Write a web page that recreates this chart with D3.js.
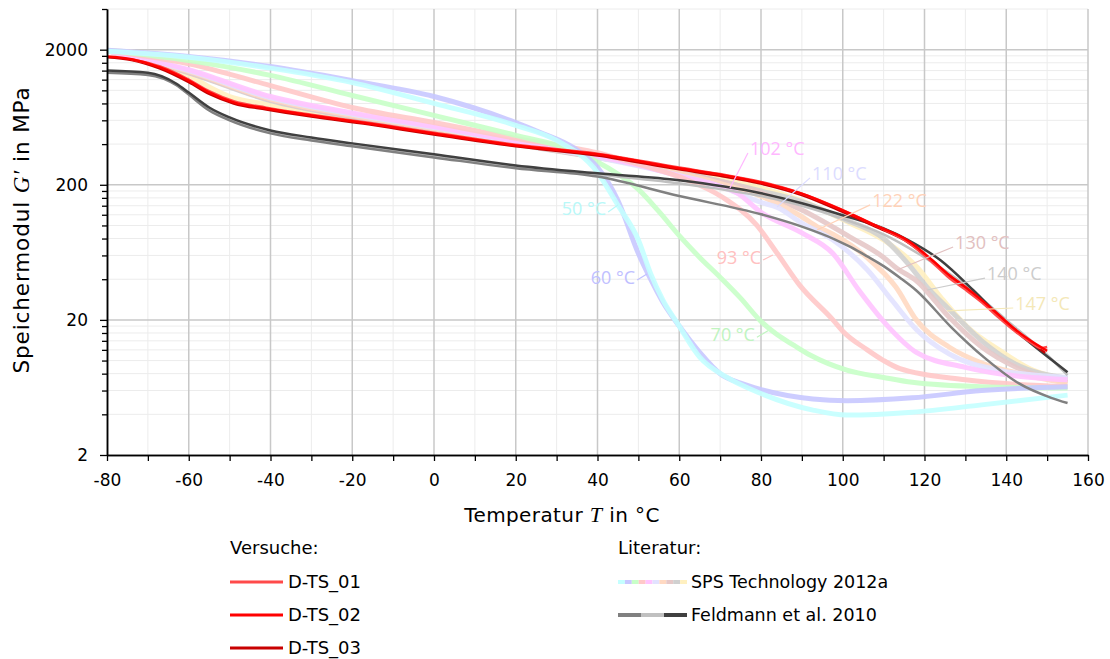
<!DOCTYPE html>
<html>
<head>
<meta charset="utf-8">
<script src="https://cdn.jsdelivr.net/npm/d3@7"></script>
<style>
  body { margin: 0; background: #fff; }
  svg text { font-family: "DejaVu Sans", sans-serif; }
</style>
</head>
<body>
<svg id="chart" width="1110" height="659"></svg>
<script>

// ---- data: [temperature in °C, storage modulus G' in MPa] ----
var dts01 = [[-74,1700],[-67,1500],[-60,1200],[-55,985],[-49,830],[-41,745],[-30,660],[-16,575],[-8,528],[0,486],[20,396],[40,340],[60,268],[70,240],[80,210],[90,172],[100,130],[108,100],[116,75],[122,53],[126,41],[130,33.5],[134,27],[138,21],[142,16.6],[146,13.6],[148.5,12.4],[150,12.6]];
var dts02 = [[-80,1780],[-74,1700],[-67,1480],[-60,1180],[-55,965],[-49,815],[-41,735],[-30,652],[-16,569],[-8,522],[0,480],[20,391],[40,336],[60,265],[70,238],[80,208],[90,172],[100,129],[108,100],[116,77],[122,55],[126,43],[130,35],[134,28],[138,22],[142,17.2],[146,14],[150,11.8]];
var dts03 = [[-80,1760],[-74,1680],[-67,1450],[-60,1150],[-55,940],[-49,800],[-41,722],[-30,640],[-16,560],[-8,514],[0,472],[20,385],[40,330],[60,260],[70,233],[80,204],[90,168],[100,126],[108,98],[116,75],[122,54],[126,42.5],[130,34.5],[134,27.5],[138,21.6],[142,16.9],[146,13.7],[149.5,11.4]];

var feldMid = [[-80,1350],[-70,1300],[-63,1090],[-60,930],[-55,710],[-50,600],[-40,480],[-30,425],[-20,385],[0,319],[20,265],[40,230],[60,165],[80,121],[90,98],[98,79],[102,69],[106,59],[110,50],[114,41],[118,33],[126.5,17.7],[134.5,10.6],[143,6.8],[151,5.3],[155,4.85]];
var feldLight = [[-80,1380],[-70,1330],[-63,1100],[-60,940],[-55,730],[-50,615],[-40,495],[-30,440],[-20,398],[0,330],[20,272],[40,238],[60,205],[80,165],[90,140],[100,112],[110,86],[120,58],[130,36],[140,20],[150,11],[155,7.8]];
var feldDark = [[-80,1400],[-70,1350],[-63,1120],[-60,964],[-55,747],[-50,630],[-40,505],[-30,448],[-20,405],[0,336],[20,278],[40,243],[60,216],[80,173],[90,146],[100,119],[110,95],[116,78],[124,55],[132,33],[140,19],[145,14.2],[155,8.2]];

var sps50 = [[-80,1950],[-60,1760],[-40,1460],[-20,1140],[0,800],[20,550],[30,426],[40,247],[45,141],[50,78],[53,44],[56,28],[59.5,19],[65,10.6],[71.7,7.5],[80,5.7],[92.7,4.3],[101,3.95],[117,4.15],[134,4.7],[155,5.55]];
var sps60 = [[-80,1980],[-60,1780],[-40,1500],[-20,1180],[0,900],[20,578],[26,488],[34,378],[40,269],[45,153],[50,62],[53,40],[56,27],[60,18],[65,11.5],[70,8],[75,6.8],[80,6.1],[92.7,5.2],[101,5.05],[117,5.3],[134,6],[155,6.4]];
var sps70 = [[-80,1980],[-60,1660],[-40,1290],[-20,916],[0,652],[20,464],[34,359],[40,295],[45,240],[50,185],[55,127],[60,84],[65,58],[70,41.4],[75,29],[80,19.5],[84,15.5],[88,13],[92,11],[101,8.5],[110,7.5],[117,6.9],[134,6.4],[155,6.26]];
var sps93 = [[-80,1960],[-60,1570],[-40,1085],[-20,747],[0,578],[20,441],[40,345],[51,278],[61,223],[70.7,161],[79,100],[84,62],[89.5,36],[97.6,20],[100,16.5],[106,12],[110,10],[114,8.7],[130,7.2],[155,6.4]];
var sps102 = [[-80,1960],[-60,1420],[-40,900],[-20,680],[0,540],[20,420],[40,325],[50,280],[60,232],[70,195],[74,175],[80,125],[90,88],[97.6,62],[104,33],[111,18],[118,11.5],[130,8.9],[155,7.2]];
var sps110 = [[-80,1960],[-60,1400],[-40,880],[-20,665],[0,530],[20,412],[40,318],[60,235],[70,195],[80,148],[84,136],[90,104],[97.6,78],[106,47],[112,28],[118,17],[126,11.2],[138,8.5],[155,7.5]];
var sps122 = [[-80,1970],[-60,1380],[-40,860],[-20,650],[0,520],[20,405],[40,322],[60,245],[70,205],[80,165],[89.6,118],[93.7,98],[97.6,86],[105.9,58],[113,35],[118,20],[126,12.6],[134,9.6],[142.5,8.1],[155,6.8]];
var sps130 = [[-80,1970],[-60,1360],[-40,850],[-20,640],[0,515],[20,400],[40,320],[60,245],[80,175],[90,130],[101.8,82],[110,58],[113.3,48],[118,39],[126,21],[134,12.6],[142.5,8.9],[155,6.9]];
var sps140 = [[-80,1970],[-60,1350],[-40,840],[-20,635],[0,510],[20,398],[40,318],[60,248],[80,180],[90,150],[100,112],[110,80],[116,52],[120.6,35],[126,24],[134,14],[142,9.5],[155,7.4]];
var sps147 = [[-80,1970],[-70,1850],[-67,1560],[-60,1300],[-55,1060],[-50,900],[-40,780],[-20,610],[0,500],[20,400],[40,328],[60,252],[80,190],[90,152],[101.8,104],[110,78],[118.2,49],[124,29.4],[130.5,17.7],[138.4,11.9],[146.5,8.5],[155,7.2]];

var spsLabels = ["50 °C","60 °C","70 °C","93 °C","102 °C","110 °C","122 °C","130 °C","140 °C","147 °C"];
// leader lines of the labels: start (next to text) and end (on the curve), in data units
var leaderFrom = [[42.6,126],[49.7,39.5],[79,14.9],[80.5,55.5],[76.8,344],[92,225],[106.7,142],[127,69.3],[134.8,40.8],[141.7,24.5]];
var leaderTo   = [[45,141.7],[52.1,43.7],[81.7,16.6],[82.9,60.4],[72.4,189],[83.9,137],[93.7,92.6],[113.3,46.8],[120.6,33.3],[125.5,23.3]];
var labelLeft  = [true,true,true,true,false,false,false,false,false,false];

var xTicks = [-80,-60,-40,-20,0,20,40,60,80,100,120,140,160];
var xMinor = [-70,-50,-30,-10,10,30,50,70,90,110,130,150];
var yTicks = [2,20,200,2000];

// ---- styles ----
var spsColors = ["#c4ffff","#c8c8ff","#c8ffc8","#ffc8c8","#ffc4ff","#e2e2ff","#ffd9c2","#e6c8c8","#d0d0d0","#fff0c0"];
var spsText   = ["#b8f8f8","#c0c0ff","#c0f4c0","#ffc0c0","#ffb8ff","#dcdcff","#ffd2b8","#e2c0c0","#cccccc","#f4e8b8"];
var redColors = ["#ff4a4a","#ff0000","#c80000"];
var grayColors = ["#808080","#c0c0c0","#404040"];

var svg = d3.select("#chart");
var margin = {left: 107, right: 1088, top: 9, bottom: 455};

var x = d3.scaleLinear().domain([-80, 160]).range([margin.left, margin.right]);
var y = d3.scaleLog().domain([2, 4000]).range([margin.bottom, margin.top]);

// minor log ticks 4,6,...,18 / 40..180 / ...
var yMinor = [];
[2, 20, 200, 2000].forEach(function(b) {
  for (var k = 2; k <= 9; k++) {
    if (b * k <= 4000) yMinor.push(b * k);
  }
});

// ---- grid ----
var grid = svg.append("g");
grid.selectAll(".vmin").data(xMinor).enter().append("line")
  .attr("x1", d => x(d)).attr("x2", d => x(d))
  .attr("y1", margin.top).attr("y2", margin.bottom)
  .attr("stroke", "#ececec").attr("stroke-width", 1);
grid.selectAll(".hmin").data(yMinor).enter().append("line")
  .attr("x1", margin.left).attr("x2", margin.right)
  .attr("y1", d => y(d)).attr("y2", d => y(d))
  .attr("stroke", "#ececec").attr("stroke-width", 1);
grid.selectAll(".vmaj").data(xTicks.slice(1)).enter().append("line")
  .attr("x1", d => x(d)).attr("x2", d => x(d))
  .attr("y1", margin.top).attr("y2", margin.bottom)
  .attr("stroke", "#c8c8c8").attr("stroke-width", 1.5);
grid.selectAll(".hmaj").data(yTicks.slice(1)).enter().append("line")
  .attr("x1", margin.left).attr("x2", margin.right)
  .attr("y1", d => y(d)).attr("y2", d => y(d))
  .attr("stroke", "#c8c8c8").attr("stroke-width", 1.5);

// ---- curves ----
var line = d3.line()
  .x(d => x(d[0]))
  .y(d => y(d[1]))
  .curve(d3.curveMonotoneX);

var spsSeries = [sps50, sps60, sps70, sps93, sps102, sps110, sps122, sps130, sps140, sps147];
var spsOrder = [9, 8, 7, 6, 5, 4, 3, 2, 1, 0];
spsOrder.forEach(function(i) {
  svg.append("path")
    .attr("d", line(spsSeries[i]))
    .attr("fill", "none")
    .attr("stroke", spsColors[i])
    .attr("stroke-width", 5)
    .attr("stroke-opacity", 0.9);
});

var feldSeries = [feldLight, feldMid, feldDark];
var feldCol = [grayColors[1], grayColors[0], grayColors[2]];
feldSeries.forEach(function(s, i) {
  svg.append("path")
    .attr("d", line(s))
    .attr("fill", "none")
    .attr("stroke", feldCol[i])
    .attr("stroke-width", 2.5);
});

[dts03, dts01, dts02].forEach(function(s, i) {
  var c = [redColors[2], redColors[0], redColors[1]][i];
  svg.append("path")
    .attr("d", line(s))
    .attr("fill", "none")
    .attr("stroke", c)
    .attr("stroke-width", 2.5);
});

// ---- SPS labels ----
spsLabels.forEach(function(t, i) {
  var p0 = leaderFrom[i], p1 = leaderTo[i];
  svg.append("line")
    .attr("x1", x(p0[0])).attr("y1", y(p0[1]))
    .attr("x2", x(p1[0])).attr("y2", y(p1[1]))
    .attr("stroke", spsText[i]).attr("stroke-width", 1.2);
  svg.append("text")
    .attr("x", labelLeft[i] ? x(p0[0]) - 2 : x(p0[0]) + 2)
    .attr("y", y(p0[1]))
    .attr("dy", labelLeft[i] ? "0.2em" : "0.1em")
    .attr("text-anchor", labelLeft[i] ? "end" : "start")
    .style("font-family", "'Open Sans', sans-serif")
    .style("font-size", "18px")
    .attr("fill", spsText[i])
    .text(t);
});

// ---- axes ----
function styleAxis(g) {
  g.select(".domain").attr("stroke", "#000").attr("stroke-width", 1.5);
  g.selectAll(".tick line").attr("stroke", "#000").attr("stroke-width", 1.3);
  g.selectAll(".tick text").style("font-size", "17px").attr("fill", "#000");
}

svg.append("g")
  .attr("transform", "translate(0," + margin.bottom + ")")
  .call(d3.axisBottom(x).tickValues(xMinor).tickSize(6).tickSizeOuter(0).tickFormat(""))
  .call(styleAxis);
svg.append("g")
  .attr("transform", "translate(0," + margin.bottom + ")")
  .call(d3.axisBottom(x).tickValues(xTicks).tickSize(6).tickSizeOuter(0).tickPadding(13)
    .tickFormat(d => String(d)))
  .call(styleAxis);

svg.append("g")
  .attr("transform", "translate(" + margin.left + ",0)")
  .call(d3.axisLeft(y).tickValues(yMinor).tickSize(5).tickSizeOuter(0).tickFormat(""))
  .call(styleAxis);
svg.append("g")
  .attr("transform", "translate(" + margin.left + ",0)")
  .call(d3.axisLeft(y).tickValues(yTicks).tickSize(7).tickSizeOuter(0).tickPadding(12)
    .tickFormat(d => String(d)))
  .call(styleAxis);

// axis titles
var xt = svg.append("text")
  .attr("x", 562).attr("y", 522)
  .attr("text-anchor", "middle")
  .style("font-size", "20px")
  .style("letter-spacing", "0.4px");
xt.append("tspan").text("Temperatur ");
xt.append("tspan").style("font-family", "'Liberation Serif', serif").style("font-style", "italic").style("font-size", "22px").text("T");
xt.append("tspan").text(" in °C");

var yt = svg.append("text")
  .attr("transform", "translate(29,230) rotate(-90)")
  .attr("text-anchor", "middle")
  .style("font-size", "21.5px")
  .style("letter-spacing", "0.9px");
yt.append("tspan").text("Speichermodul ");
yt.append("tspan").style("font-family", "'Liberation Serif', serif").style("font-style", "italic").style("font-size", "23px").text("G′");
yt.append("tspan").text(" in MPa");

// ---- legend ----
var legend = svg.append("g");
legend.append("text").attr("x", 230).attr("y", 554).style("font-size", "18px").text("Versuche:");
legend.append("text").attr("x", 618).attr("y", 554).style("font-size", "18px").text("Literatur:");

var redNames = ["D-TS_01", "D-TS_02", "D-TS_03"];
var rowY = [582, 615, 648];
redNames.forEach(function(n, i) {
  legend.append("line")
    .attr("x1", 230).attr("x2", 283).attr("y1", rowY[i]).attr("y2", rowY[i])
    .attr("stroke", redColors[i]).attr("stroke-width", 3);
  legend.append("text").attr("x", 288).attr("y", rowY[i] + 6).style("font-size", "18px").text(n);
});

var swW = 69;
spsColors.forEach(function(c, i) {
  legend.append("line")
    .attr("x1", 618 + i * swW / 10).attr("x2", 618 + (i + 1) * swW / 10)
    .attr("y1", rowY[0]).attr("y2", rowY[0])
    .attr("stroke", c).attr("stroke-width", 4);
});
legend.append("text").attr("x", 691).attr("y", rowY[0] + 6).style("font-size", "17.5px").text("SPS Technology 2012a");

grayColors.forEach(function(c, i) {
  legend.append("line")
    .attr("x1", 618 + i * swW / 3).attr("x2", 618 + (i + 1) * swW / 3)
    .attr("y1", rowY[1]).attr("y2", rowY[1])
    .attr("stroke", c).attr("stroke-width", 4);
});
legend.append("text").attr("x", 691).attr("y", rowY[1] + 6).style("font-size", "17.5px").text("Feldmann et al. 2010");

</script>
</body>
</html>
